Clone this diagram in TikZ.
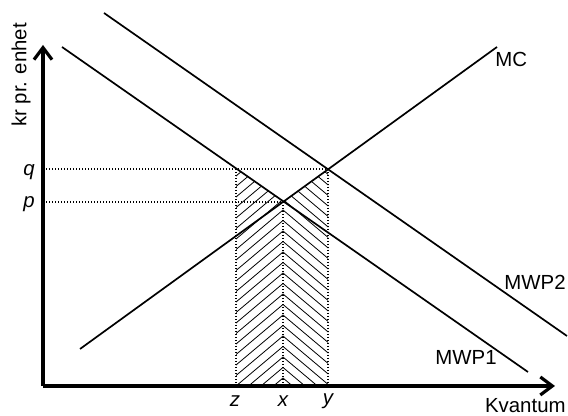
\documentclass[tikz,border=0pt]{standalone}
\usepackage{fontspec}
\setmainfont{Liberation Sans}
\usetikzlibrary{arrows.meta}
\tikzset{
  axis arrow/.style={-{Straight Barb[length=6pt,width=9pt,line width=1.6pt]},
    line width=2pt},
  curve line/.style={line width=0.85pt, draw=black},
  guide line/.style={line width=0.7pt, dash pattern=on 0.6pt off 0.9pt},
  hatch line/.style={line width=0.4pt},
  curve label/.style={font=\fontsize{10.2}{12}\selectfont, anchor=west, inner sep=0pt},
  tick label/.style={font=\fontsize{10.2}{12}\selectfont\itshape, inner sep=0pt}
}

\begin{document}
\begin{tikzpicture}[x=0.5pt, y=0.5pt]
  \useasboundingbox (0,0) rectangle (568,416);
  % points of the diagram
  \coordinate (origin) at (43,30);
  \coordinate (ytop) at (43,371);
  \coordinate (xend) at (555,30);
  \coordinate (mwp1a) at (62,369);
  \coordinate (mwp1b) at (528,44);
  \coordinate (mwp2a) at (104,403);
  \coordinate (mwp2b) at (567,80);
  \coordinate (mca) at (80,67);
  \coordinate (mcb) at (497,369);
  \coordinate (pt) at (283,214);
  \coordinate (qt) at (328,247);
  \coordinate (zt) at (236,247);
  \coordinate (pax) at (43,214);
  \coordinate (qax) at (43,247);
  \coordinate (zbot) at (236,30);
  \coordinate (xbot) at (283,30);
  \coordinate (ybot) at (328,30);

  % hatching
  \begin{scope}
    \clip (zbot) -- (zt) -- (pt) -- (xbot) -- cycle;
    \foreach \c in {38,48.5,...,310}
      \draw[hatch line] (283,\c) -- (220,\c-53);
  \end{scope}
  \begin{scope}
    \clip (xbot) -- (pt) -- (qt) -- (ybot) -- cycle;
    \foreach \c in {38,48.5,...,310}
      \draw[hatch line] (283,\c) -- (346,\c-53);
  \end{scope}

  % guide lines
  \draw[guide line] (qax) -- (qt);
  \draw[guide line] (pax) -- (pt);
  \draw[guide line] (zt) -- (zbot);
  \draw[guide line] (pt) -- (xbot);
  \draw[guide line] (qt) -- (ybot);

  % curves
  \draw[curve line] (mwp1a) -- (mwp1b);
  \draw[curve line] (mwp2a) -- (mwp2b);
  \draw[curve line] (mca) -- (mcb);

  % axes
  \draw[axis arrow] (origin) -- (ytop);
  \draw[axis arrow] (origin) -- (xend);

  \node[curve label] (mclab) at (495,357) {MC};
  \node[curve label] (mwp2lab) at (504,134) {MWP2};
  \node[curve label] (mwp1lab) at (435,59) {MWP1};
  \node[curve label, anchor=east] (xlab) at (566,10) {Kvantum};
  \node[curve label, anchor=center, rotate=90] (ylab) at (21,341) {kr pr. enhet};
  \node[tick label] (qlab) at (29,244) {q};
  \node[tick label] (plab) at (29,212) {p};
  \node[tick label] (zlab) at (235,15) {z};
  \node[tick label] (xtick) at (283,15) {x};
  \node[tick label] (ytick) at (328,15) {y};
\end{tikzpicture}
\end{document}
